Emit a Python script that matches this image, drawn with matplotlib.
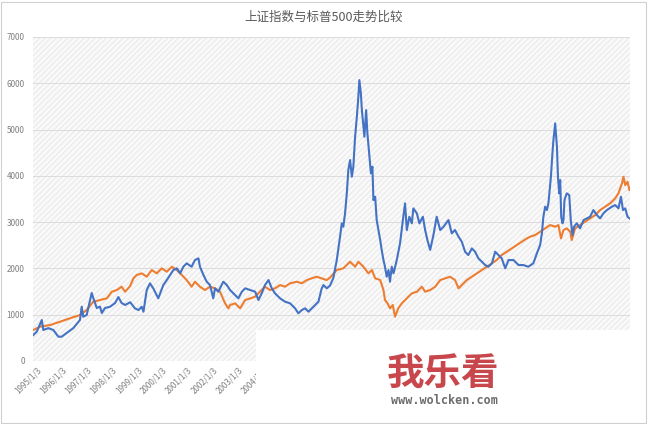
import matplotlib
matplotlib.use("Agg")
import matplotlib.pyplot as plt
from matplotlib.patches import Rectangle

plt.rcParams['font.family'] = ['Noto Sans CJK SC', 'DejaVu Sans']

title = "上证指数与标普500走势比较"
tick_years = list(range(1995, 2019))
tick_labels = [f"{y}/1/3" for y in tick_years]
y_ticks = [0, 1000, 2000, 3000, 4000, 5000, 6000, 7000]

# 上证指数 (blue)
sh_x = [1994.85, 1994.99, 1995.19, 1995.25, 1995.45, 1995.65, 1995.85, 1995.98, 1996.18, 1996.45,
        1996.71, 1996.78, 1996.84, 1996.98, 1997.04, 1997.18, 1997.24, 1997.38, 1997.51, 1997.58,
        1997.71, 1997.91, 1998.11, 1998.24, 1998.37, 1998.51, 1998.71, 1998.90, 1999.04, 1999.17,
        1999.24, 1999.37, 1999.50, 1999.63, 1999.83, 2000.03, 2000.17, 2000.30, 2000.43, 2000.57,
        2000.70, 2000.83, 2000.96, 2001.16, 2001.29, 2001.43, 2001.49, 2001.63, 2001.76, 2001.89,
        2002.02, 2002.09, 2002.22, 2002.42, 2002.56, 2002.69, 2002.89, 2003.02, 2003.16, 2003.29,
        2003.49, 2003.69, 2003.82, 2003.95, 2004.08, 2004.22, 2004.35, 2004.48, 2004.68, 2004.88,
        2005.08, 2005.28, 2005.41, 2005.55, 2005.68, 2005.81, 2006.01, 2006.21, 2006.34, 2006.41,
        2006.54, 2006.67, 2006.80, 2006.94, 2007.07, 2007.14, 2007.20, 2007.27, 2007.34, 2007.40,
        2007.47, 2007.54, 2007.60, 2007.67, 2007.74, 2007.80, 2007.84, 2007.90, 2007.94, 2008.00,
        2008.04, 2008.11, 2008.16, 2008.24, 2008.30, 2008.36, 2008.40, 2008.47, 2008.53, 2008.60,
        2008.67, 2008.73, 2008.80, 2008.86, 2008.93, 2009.00, 2009.06, 2009.13, 2009.20, 2009.33,
        2009.46, 2009.59, 2009.66, 2009.73, 2009.83, 2009.93, 2009.99, 2010.13, 2010.23, 2010.37,
        2010.46, 2010.55, 2010.66, 2010.79, 2010.92, 2011.06, 2011.19, 2011.39, 2011.52, 2011.65,
        2011.79, 2011.92, 2012.05, 2012.18, 2012.32, 2012.45, 2012.58, 2012.72, 2012.85, 2012.98,
        2013.12, 2013.25, 2013.38, 2013.51, 2013.65, 2013.78, 2013.98, 2014.18, 2014.37, 2014.57,
        2014.77, 2014.91, 2015.04, 2015.11, 2015.17, 2015.24, 2015.31, 2015.37, 2015.47, 2015.53,
        2015.57, 2015.64, 2015.71, 2015.75, 2015.80, 2015.84, 2015.88, 2015.93, 2015.97, 2016.01,
        2016.10, 2016.20, 2016.26, 2016.33, 2016.39, 2016.50, 2016.63, 2016.77, 2016.90, 2017.03,
        2017.16, 2017.30, 2017.43, 2017.56, 2017.70, 2017.90, 2018.03, 2018.16, 2018.26, 2018.34,
        2018.43, 2018.52, 2018.60]
sh_y = [560, 633, 885, 670, 710, 670, 525, 525, 605, 712,
        885, 1173, 957, 993, 1145, 1469, 1361, 1145, 1173, 1037,
        1145, 1173, 1253, 1382, 1253, 1210, 1270, 1138, 1101, 1173,
        1065, 1533, 1678, 1570, 1354, 1641, 1749, 1857, 1965, 2002,
        1894, 2037, 2110, 2037, 2181, 2218, 2037, 1857, 1713, 1641,
        1354, 1570, 1497, 1713, 1641, 1533, 1425, 1354, 1497, 1570,
        1533, 1497, 1317, 1462, 1641, 1749, 1570, 1462, 1354, 1281,
        1246, 1138, 1030, 1101, 1138, 1065, 1173, 1281, 1570, 1641,
        1570, 1630, 1786, 2181, 2685, 2974, 2901, 3190, 3622, 4125,
        4341, 3981, 4197, 4845, 5277, 5709, 6069, 5782, 5421, 5061,
        4845, 5421, 4917, 4413, 4054, 4197, 3477, 3549, 3045, 2829,
        2613, 2397, 2181, 2037, 1821, 1965, 1713, 2037, 1894, 2181,
        2542, 3117, 3406, 2829, 3117, 2974, 3298, 3190, 2974, 3117,
        2829, 2613, 2400, 2721, 3117, 2829, 2901, 3045, 2757, 2829,
        2685, 2577, 2361, 2289, 2433, 2361, 2218, 2145, 2073, 2037,
        2110, 2361, 2289, 2218, 2002, 2181, 2181, 2073, 2073, 2037,
        2110, 2325, 2505, 2757, 3117, 3333, 3261, 3406, 3981, 4486,
        4773, 5134, 4629, 3981, 3622, 3909, 3117, 2974, 3045, 3477,
        3622, 3585, 3045, 2721, 2901, 2974, 2865, 3045, 3081, 3117,
        3261, 3153, 3081, 3190, 3261, 3333, 3369, 3298, 3549, 3261,
        3298, 3117, 3081]

# 标普500 (orange)
sp_x = [1994.85, 1995.12, 1995.52, 1995.92, 1996.31, 1996.71, 1996.98, 1997.24, 1997.51, 1997.78,
        1997.98, 1998.18, 1998.37, 1998.51, 1998.71, 1998.84, 1998.97, 1999.17, 1999.37, 1999.57,
        1999.77, 1999.97, 2000.17, 2000.37, 2000.57, 2000.77, 2000.96, 2001.16, 2001.29, 2001.49,
        2001.69, 2001.89, 2002.09, 2002.29, 2002.49, 2002.62, 2002.69, 2002.89, 2003.09, 2003.29,
        2003.49, 2003.69, 2003.88, 2004.08, 2004.28, 2004.48, 2004.68, 2004.88, 2005.08, 2005.35,
        2005.55, 2005.75, 2005.94, 2006.14, 2006.34, 2006.54, 2006.67, 2006.94, 2007.20, 2007.47,
        2007.67, 2007.80, 2008.00, 2008.20, 2008.34, 2008.47, 2008.67, 2008.80, 2008.86, 2008.96,
        2009.06, 2009.17, 2009.26, 2009.39, 2009.53, 2009.73, 2009.93, 2010.13, 2010.33, 2010.46,
        2010.66, 2010.86, 2011.06, 2011.26, 2011.45, 2011.65, 2011.79, 2011.92, 2012.12, 2012.32,
        2012.52, 2012.72, 2012.92, 2013.12, 2013.31, 2013.51, 2013.71, 2013.91, 2014.11, 2014.31,
        2014.51, 2014.64, 2014.84, 2015.04, 2015.24, 2015.44, 2015.64, 2015.77, 2015.87, 2015.97,
        2016.10, 2016.24, 2016.30, 2016.43, 2016.63, 2016.83, 2017.03, 2017.23, 2017.43, 2017.63,
        2017.83, 2018.03, 2018.16, 2018.30, 2018.36, 2018.43, 2018.52, 2018.60]
sp_y = [670, 741, 777, 849, 922, 993, 1101, 1281, 1317, 1354,
        1497, 1533, 1605, 1497, 1620, 1786, 1857, 1894, 1821, 1965,
        1894, 2002, 1929, 2037, 1965, 1857, 1749, 1605, 1713, 1605,
        1533, 1605, 1570, 1497, 1246, 1138, 1210, 1246, 1138, 1317,
        1354, 1389, 1497, 1605, 1533, 1570, 1641, 1605, 1678, 1713,
        1678, 1749, 1786, 1821, 1786, 1749, 1800, 1965, 2002, 2145,
        2037, 2145, 2037, 1894, 1965, 1786, 1749, 1533, 1317, 1246,
        1138, 1210, 957, 1138, 1246, 1354, 1462, 1497, 1605, 1497,
        1533, 1605, 1749, 1786, 1821, 1749, 1570, 1641, 1749, 1821,
        1894, 1965, 2037, 2110, 2181, 2289, 2361, 2433, 2505, 2577,
        2649, 2685, 2721, 2793, 2865, 2937, 2901, 2937, 2649, 2829,
        2865, 2793, 2613, 2865, 2937, 3009, 3081, 3153, 3261, 3333,
        3406, 3513, 3622, 3838, 3981, 3801, 3873, 3693]

W, H = 648, 424
fig = plt.figure(figsize=(W / 100, H / 100), dpi=100)
fig.patch.set_facecolor('white')

ax = fig.add_axes([33 / W, 1 - 361 / H, (630 - 33) / W, (361 - 37) / H])
plt.rcParams['hatch.linewidth'] = 0.4
ax.patch.set_facecolor('#fafafa')
ax.patch.set_hatch('//////')
ax.patch.set_edgecolor('#ececec')
ax.patch.set_linewidth(0)

ax.plot(sh_x, sh_y, color='#4472C4', lw=1.5, zorder=3)
ax.plot(sp_x, sp_y, color='#ED7D31', lw=1.5, zorder=2)

ax.set_xlim(1994.84, 2018.62)
ax.set_ylim(0, 7000)
ax.set_yticks(y_ticks)
ax.set_yticklabels([str(v) for v in y_ticks])
ax.set_xticks([y + 0.0 for y in tick_years])
ax.set_xticklabels(tick_labels, rotation=45, ha='right', rotation_mode='anchor')
ax.tick_params(axis='both', length=0, labelsize=5.8, labelcolor='#7f7f7f')
ax.tick_params(axis='y', pad=6)
ax.tick_params(axis='x', pad=3)
ax.grid(axis='y', color='#dcdcdc', lw=0.7)
ax.set_axisbelow(True)
for s in ax.spines.values():
    s.set_visible(False)

fig.text(0.5, 1 - 17 / H, title, ha='center', va='center', fontsize=9, color='#595959')

# white cover with watermark (bottom right)
fig.patches.append(Rectangle((256 / W, 0), (641 - 256) / W, (H - 330) / H,
                             transform=fig.transFigure, facecolor='white',
                             edgecolor='none', zorder=10))
fig.text(443 / W, 1 - 374 / H, "我乐看", ha='center', va='center', fontsize=27,
         fontweight='bold', color='#c8474c', zorder=11)
fig.text(444 / W, 1 - 401 / H, "www.wolcken.com", ha='center', va='center', fontsize=8.5,
         family='DejaVu Sans Mono', fontweight='bold', color='#6d6d6d', zorder=11)

# outer border
fig.patches.append(Rectangle((1 / W, 1 / H), (W - 3) / W, (H - 3) / H, transform=fig.transFigure,
                             facecolor='none', edgecolor='#d0d0d0', lw=0.8, zorder=12))

fig.savefig('out.png', dpi=100)
